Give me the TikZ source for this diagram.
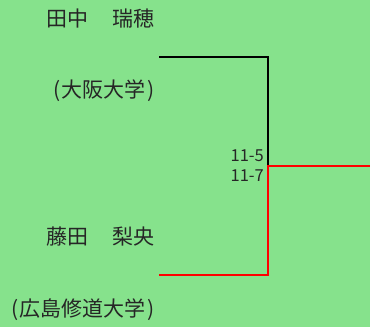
\documentclass[tikz,border=0pt]{standalone}
\usepackage{fontspec}
\newfontfamily\jp{Noto Sans CJK JP}
\definecolor{bg}{RGB}{134,226,140}
\definecolor{winred}{RGB}{255,0,0}
\newcommand\lp{\makebox[0.45em][c]{(}}
\newcommand\rp{\makebox[0.45em][r]{)}}
\newcommand\gap{\hspace{1.15em}}
\begin{document}
\begin{tikzpicture}[x=1pt,y=-1pt,
  pname/.style={anchor=east,inner sep=0pt,font=\jp\fontsize{21}{21}\selectfont,text=black!85},
  pscore/.style={anchor=east,inner sep=0pt,font=\jp\fontsize{16.5}{16.5}\selectfont,text=black!85},
  bline/.style={line width=2pt}]
\fill[bg] (0,0) rectangle (370,327);
\useasboundingbox (0,0) rectangle (370,327);
\node[pname] (p1) at (155,18.5) {田中\gap 瑞穂};
\node[pname] (u1) at (155,91) {\lp 大阪大学\rp};
\node[pname] (p2) at (155,237) {藤田\gap 梨央};
\node[pname] (u2) at (155,310) {\lp 広島修道大学\rp};
\coordinate (a1) at (159,57);
\coordinate (j) at (268,166);
\coordinate (a2) at (159,275);
\coordinate (out) at (370,166);
\draw[bline] (a1) -| (j);
\draw[bline,winred] (a2) -| (j) -- (out);
\node[pscore] (s1) at (264,156) {11-5};
\node[pscore] (s2) at (264,176) {11-7};
\end{tikzpicture}
\end{document}
